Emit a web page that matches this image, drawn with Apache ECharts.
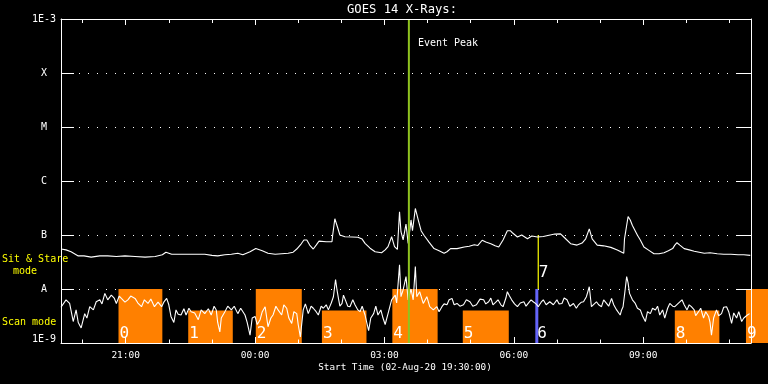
<!DOCTYPE html>
<html><head><meta charset="utf-8">
<script src="https://cdn.jsdelivr.net/npm/echarts@6/dist/echarts.min.js"></script>
<style>html,body{margin:0;padding:0;background:#000;}#c{width:768px;height:384px;}</style>
</head><body><div id="c"></div>
<script>
// Times are minutes after the start time 02-Aug-20 19:30:00; flux values in nW/m^2 (1e-9 W/m^2)
const longTimes = [
0,7,14,24,32,42,54,65,77,89,
103,117,131,141,146,154,163,173,181,191,
200,210,218,228,237,246,253,263,271,280,
288,298,307,316,323,328,334,338,342,346,
351,355,359,369,377,378,381,384,388,395,
405,413,419,423,430,437,446,451,455,460,
464,468,471,473,476,480,483,487,489,493,
497,501,505,512,519,526,533,537,542,551,
561,568,575,580,586,591,598,604,609,615,
621,625,628,635,641,649,655,663,671,679,
687,695,701,709,718,725,730,735,739,746,
755,765,774,783,784,789,792,795,802,806,
811,818,825,832,839,845,851,854,857,861,
867,874,881,888,895,903,913,922,932,942,
950,959];
const longFlux = [
55,53,49,41,41,39,41,41,40,41,
40,39,40,43,48,44,44,44,44,44,
44,42,41,43,44,46,43,49,56,51,
46,44,45,46,48,55,68,81,81,65,
55,65,77,75,75,100,200,150,100,93,
92,91,84,70,57,49,47,53,61,93,
61,54,270,115,81,160,70,190,120,310,
190,120,99,74,56,51,46,49,56,56,
60,62,66,64,80,74,69,63,60,81,
120,120,110,92,100,85,96,92,94,99,
104,105,88,69,65,71,85,130,85,65,
63,59,53,46,85,220,190,150,99,81,
60,52,45,45,47,51,56,65,72,65,
56,53,50,48,46,47,45,44,44,43,
43,42];
const shortTimes = [
0,7,12,17,21,24,28,33,36,40,
45,49,54,57,61,65,70,74,77,81,
84,89,93,97,103,107,112,116,121,125,
130,135,140,143,147,150,153,157,160,163,
167,171,174,178,181,186,191,195,200,205,
209,213,216,218,221,223,228,232,237,241,
246,250,256,259,263,266,270,273,277,280,
284,288,292,295,299,302,307,310,314,317,
321,324,328,330,333,337,340,344,348,351,
355,358,362,365,369,372,376,379,382,384,
386,388,391,393,395,399,402,406,409,413,
416,419,423,428,431,435,438,441,445,448,
451,455,460,465,467,471,473,476,480,483,
487,490,493,495,499,504,509,513,518,523,
526,530,533,537,540,544,547,551,555,560,
564,569,573,578,583,588,591,595,598,601,
605,608,612,615,619,621,624,627,631,635,
639,644,647,650,654,657,661,664,668,671,
675,680,685,690,693,697,700,704,708,713,
717,720,724,727,731,735,738,742,745,748,
752,755,759,762,766,769,773,775,778,780,
782,784,787,789,791,795,799,802,806,809,
813,816,820,823,827,830,833,837,840,844,
847,851,854,858,864,867,871,874,877,881,
883,887,890,894,897,901,903,905,908,912,
915,919,922,926,929,933,936,940,943,947,
950,955,958];
const shortFlux = [
4.6,6.3,5.4,2.5,4.1,2.4,1.9,3.5,2.9,4.7,
4.1,5.8,6.3,5.3,8.3,6.3,7.7,6.8,5.4,7.4,
6.7,5.7,6.3,7.4,6.7,5.5,4.7,6.3,5.4,6.5,
4.7,5.7,4.7,5.7,6.7,5.1,3.1,2.4,4.1,3.4,
3.3,4.3,3.3,4.4,3.8,3.6,2.7,4.1,3.5,4.3,
3.3,4.8,4.1,2.4,1.6,2.9,3.8,4.8,4.1,4.8,
3.5,4.4,3.3,2.4,1.4,2.9,3.1,2.2,2.7,3.8,
4.7,2.0,2.9,3.3,4.8,4.1,3.3,5.1,4.4,2.9,
2.3,3.8,3.5,2.2,1.3,4.1,5.3,3.5,4.8,4.4,
3.8,3.3,4.8,4.4,5.1,4.1,5.5,7.2,15,9.6,
6.7,4.8,5.4,7.7,7.2,4.8,4.7,6.3,5.1,4.1,
3.8,4.8,3.3,1.7,2.9,3.5,4.8,3.3,4.1,2.9,
2.2,3.5,6.3,7.7,5.5,28,7.2,9.6,17,6.3,
10,6.3,26,7.2,8.9,5.4,7.2,4.7,4.1,4.7,
3.8,4.7,5.3,5.1,6.3,6.7,5.1,5.4,4.8,5.1,
6.3,5.8,4.8,5.1,6.5,6.3,5.3,5.8,6.8,5.1,
5.7,6.3,5.1,4.7,6.8,8.9,7.4,6.3,5.3,4.7,
5.5,5.8,4.8,5.4,6.3,5.8,5.3,4.7,5.7,6.3,
5.1,5.8,5.1,6.3,5.3,5.4,6.8,6.3,4.8,5.4,
4.4,5.1,5.7,5.8,7.2,11,4.7,5.3,5.8,5.1,
4.7,6.3,5.4,4.8,6.7,5.1,4.1,3.8,3.3,4.1,
4.7,7.7,17,13,8.3,6.3,5.4,4.4,4.1,3.2,
2.5,3.8,3.5,4.4,4.1,4.8,3.3,4.1,2.9,4.4,
5.4,4.8,4.7,5.3,6.3,5.1,4.1,5.1,4.7,4.1,
3.2,3.8,4.4,2.9,3.8,3.1,2.4,1.4,2.9,4.1,
3.2,3.5,4.6,4.7,3.8,2.3,3.6,2.9,3.8,2.5,
2.9,3.3,3.5];
// axis ticks
const hourTicks = [30,90,150,210,270,330,390,450,510,570,630,690,750,810,870,930];
const majorTicks = [90,270,450,630,810];
const majorTickLabels = ['21:00','00:00','03:00','06:00','09:00'];
const fluxTickLabels = ['1E-9','A','B','C','M','X','1E-3'];
// observations
const scanLabels = ['0','1','2','3','4','5','8','9'];
const scanStart = [80,177,271,363,461,559,854,953];
const scanEnd = [141,239,335,425,524,623,916,1016];
const scanTop = [1e-8,4e-9,1e-8,4e-9,1e-8,4e-9,4e-9,1e-8];
const obsLineLabels = ['6','7'];
const obsLineTimes = [662,664];
const obsLineLow = [1e-9,1e-8];
const obsLineHigh = [1e-8,1e-7];
const eventPeakLabel = 'Event Peak';
const eventPeakTime = 484;

const FONT = 'DejaVu Sans Mono';
const W = '#ffffff';
const chart = echarts.init(document.getElementById('c'), null, {renderer:'canvas', width:768, height:384});
const xBase = {type:'value', min:0, max:960, z:10, splitLine:{show:false},
  axisLine:{show:false, onZero:false}, axisLabel:{show:false}};
const tick = (len, vals) => ({show:true, inside:true, length:len, customValues:vals, lineStyle:{color:W, width:1}});
const option = {
  backgroundColor:'#000000',
  animation:false,
  grid:{left:61, top:19, width:690, height:324, containLabel:false},
  xAxis:[
    Object.assign({}, xBase, {position:'bottom',
      axisLine:{show:true, onZero:false, lineStyle:{color:W, width:1}},
      axisTick:tick(6, majorTicks),
      axisLabel:{show:true, customValues:majorTicks, color:W, fontFamily:FONT, fontSize:9.5, margin:8,
        formatter:(v)=>majorTickLabels[majorTicks.indexOf(v)]}}),
    Object.assign({}, xBase, {position:'bottom', axisTick:tick(3.5, hourTicks)}),
    Object.assign({}, xBase, {position:'top',
      axisLine:{show:true, onZero:false, lineStyle:{color:W, width:1}},
      axisTick:tick(6, majorTicks)}),
    Object.assign({}, xBase, {position:'top', axisTick:tick(4, hourTicks)})
  ],
  yAxis:[
    {type:'log', logBase:10, min:1e-9, max:1e-3, position:'left', z:0,
     axisLine:{show:true, onZero:false, lineStyle:{color:W, width:1}},
     axisTick:{show:true, inside:true, length:13, lineStyle:{color:W}},
     splitLine:{show:true, lineStyle:{color:W, type:[1,8], width:1}},
     axisLabel:{color:W, fontFamily:FONT, fontSize:10, align:'center', margin:17, lineHeight:8,
       verticalAlignMinLabel:'bottom', verticalAlignMaxLabel:'top',
       formatter:(v)=>fluxTickLabels[Math.round(Math.log10(v))+9]}},
    {type:'log', logBase:10, min:1e-9, max:1e-3, position:'right', z:10,
     axisLine:{show:true, onZero:false, lineStyle:{color:W, width:1}},
     axisTick:{show:true, inside:true, length:14, lineStyle:{color:W}},
     axisLabel:{show:false}, splitLine:{show:false}}
  ],
  series:[
    {type:'custom', name:'scans', coordinateSystem:'cartesian2d', xAxisIndex:0, yAxisIndex:0, clip:false, z:1, silent:true,
     data: scanLabels.map((l,i)=>[scanStart[i], scanEnd[i], scanTop[i]]),
     encode:{x:[0,1], y:2},
     renderItem:(params, api)=>{
       const lo = api.coord([api.value(0), 1e-9]);
       const hi = api.coord([api.value(1), api.value(2)]);
       return {type:'group', children:[
         {type:'rect', shape:{x:lo[0], y:hi[1], width:hi[0]-lo[0], height:lo[1]-hi[1]}, style:{fill:'#ff8000'}},
         {type:'text', x:lo[0]+1, y:lo[1]-9.5, style:{text:scanLabels[params.dataIndex], fill:W, fontSize:16, fontFamily:FONT, verticalAlign:'middle', align:'left'}}
       ]};
     }},
    {type:'custom', name:'obsLines', coordinateSystem:'cartesian2d', xAxisIndex:0, yAxisIndex:0, clip:false, z:1, silent:true,
     data: obsLineTimes.map((t,i)=>[t, obsLineLow[i], obsLineHigh[i]]),
     encode:{x:0, y:[1,2]},
     renderItem:(params, api)=>{
       const i = params.dataIndex;
       const lo = api.coord([api.value(0), api.value(1)]);
       const hi = api.coord([api.value(0), api.value(2)]);
       const colors = ['#6464f8','#ffff00'];
       const widths = [3, 1.2];
       const dy = [-9.5, -16];
       return {type:'group', children:[
         {type:'line', shape:{x1:lo[0], y1:lo[1], x2:hi[0], y2:hi[1]}, style:{stroke:colors[i], lineWidth:widths[i]}},
         {type:'text', x:lo[0]+0.5, y:lo[1]+dy[i], style:{text:obsLineLabels[i], fill:W, fontSize:16, fontFamily:FONT, verticalAlign:'middle'}}
       ]};
     }},
    {type:'line', name:'long', xAxisIndex:0, yAxisIndex:0, z:2, silent:true, showSymbol:false, symbol:'none',
     data: longTimes.map((t,i)=>[t, longFlux[i]*1e-9]), lineStyle:{color:W, width:1.1}},
    {type:'line', name:'short', xAxisIndex:0, yAxisIndex:0, z:2, silent:true, showSymbol:false, symbol:'none',
     data: shortTimes.map((t,i)=>[t, shortFlux[i]*1e-9]), lineStyle:{color:W, width:1.1}},
    {type:'custom', name:'eventPeak', coordinateSystem:'cartesian2d', xAxisIndex:0, yAxisIndex:0, clip:false, z:3, silent:true,
     data: [[eventPeakTime]],
     encode:{x:0},
     renderItem:(params, api)=>{
       const lo = api.coord([api.value(0), 1e-9]);
       const hi = api.coord([api.value(0), 1e-3]);
       return {type:'group', children:[
         {type:'line', shape:{x1:lo[0], y1:lo[1], x2:hi[0], y2:hi[1]}, style:{stroke:'#8fc31f', lineWidth:2}},
         {type:'text', x:lo[0]+9, y:hi[1]+24, style:{text:eventPeakLabel, fill:W, fontSize:10, fontFamily:FONT, verticalAlign:'middle'}}
       ]};
     }}
  ],
  graphic:[
    {type:'text', x:402, y:9.5, style:{text:'GOES 14 X-Rays:', fill:W, fontSize:12.2, fontFamily:FONT, align:'center', verticalAlign:'middle'}},
    {type:'text', x:2, y:259, style:{text:'Sit & Stare', fill:'#ffff00', fontSize:10, fontFamily:FONT, verticalAlign:'middle'}},
    {type:'text', x:13, y:271, style:{text:'mode', fill:'#ffff00', fontSize:10, fontFamily:FONT, verticalAlign:'middle'}},
    {type:'text', x:2, y:322.5, style:{text:'Scan mode', fill:'#ffff00', fontSize:10, fontFamily:FONT, verticalAlign:'middle'}},
    {type:'text', x:405, y:368, style:{text:'Start Time (02-Aug-20 19:30:00)', fill:W, fontSize:9.3, fontFamily:FONT, align:'center', verticalAlign:'middle'}}
  ]
};
chart.setOption(option);
</script>
</body></html>
